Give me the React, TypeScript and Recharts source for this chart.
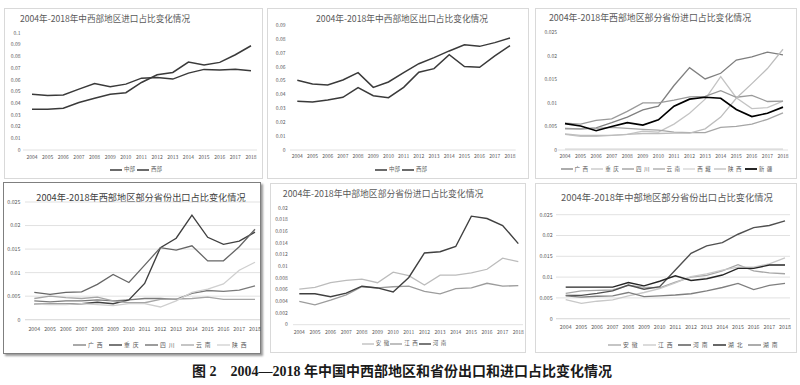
import React from 'react';
import { LineChart, Line, XAxis, YAxis, CartesianGrid } from 'recharts';

// ---------- categories ----------
const years = ['2004', '2005', '2006', '2007', '2008', '2009', '2010', '2011', '2012', '2013', '2014', '2015', '2016', '2017', '2018'];

// ---------- panel 1: 中西部地区进口占比 ----------
const p1Central = [0.0477, 0.0466, 0.0470, 0.0520, 0.0569, 0.0540, 0.0563, 0.0614, 0.0620, 0.0606, 0.0657, 0.0689, 0.0683, 0.0690, 0.0677];
const p1Western = [0.0349, 0.0349, 0.0357, 0.0406, 0.0443, 0.0477, 0.0490, 0.0577, 0.0643, 0.0663, 0.0751, 0.0726, 0.0749, 0.0814, 0.0891];
const p1Ticks = [0, 0.01, 0.02, 0.03, 0.04, 0.05, 0.06, 0.07, 0.08, 0.09, 0.1];

// ---------- panel 2: 中西部地区出口占比 ----------
const p2Central = [0.0503, 0.0476, 0.0469, 0.0505, 0.0558, 0.0452, 0.0491, 0.0558, 0.0623, 0.0667, 0.0715, 0.0760, 0.0748, 0.0775, 0.0808];
const p2Western = [0.0351, 0.0346, 0.0361, 0.0380, 0.0450, 0.0392, 0.0378, 0.0452, 0.0561, 0.0587, 0.0688, 0.0602, 0.0597, 0.0679, 0.0753];
const p2Ticks = [0, 0.01, 0.02, 0.03, 0.04, 0.05, 0.06, 0.07, 0.08, 0.09];

// ---------- panel 3: 西部地区部分省份进口占比 ----------
const p3Guangxi = [0.0046, 0.0045, 0.0047, 0.0058, 0.0070, 0.0085, 0.0093, 0.0137, 0.0175, 0.0151, 0.0163, 0.0191, 0.0198, 0.0208, 0.0202];
const p3Chongqing = [0.0033, 0.0029, 0.0029, 0.0031, 0.0033, 0.0040, 0.0038, 0.0055, 0.0078, 0.0108, 0.0156, 0.0111, 0.0088, 0.0090, 0.0104];
const p3Sichuan = [0.0057, 0.0055, 0.0063, 0.0066, 0.0082, 0.0100, 0.0100, 0.0106, 0.0113, 0.0114, 0.0126, 0.0112, 0.0116, 0.0103, 0.0104];
const p3Yunnan = [0.0045, 0.0045, 0.0046, 0.0048, 0.0046, 0.0044, 0.0042, 0.0038, 0.0037, 0.0037, 0.0048, 0.0050, 0.0055, 0.0065, 0.0079];
const p3Tibet = [0.0002, 0.0002, 0.0002, 0.0002, 0.0002, 0.0002, 0.0002, 0.0002, 0.0002, 0.0002, 0.0002, 0.0002, 0.0002, 0.0002, 0.0002];
const p3Shaanxi = [0.0034, 0.0031, 0.0031, 0.0031, 0.0033, 0.0035, 0.0035, 0.0036, 0.0036, 0.0045, 0.0070, 0.0110, 0.0141, 0.0173, 0.0214];
const p3Xinjiang = [0.0056, 0.0051, 0.0041, 0.0050, 0.0058, 0.0053, 0.0064, 0.0093, 0.0108, 0.0112, 0.0110, 0.0086, 0.0071, 0.0078, 0.0091];
const ticks025 = [0, 0.005, 0.01, 0.015, 0.02, 0.025];

// ---------- panel 4: 西部地区部分省份出口占比 ----------
const p4Guangxi = [0.0040, 0.0038, 0.0040, 0.0040, 0.0042, 0.0040, 0.0042, 0.0045, 0.0045, 0.0043, 0.0056, 0.0062, 0.0060, 0.0063, 0.0072];
const p4Chongqing = [0.0033, 0.0033, 0.0033, 0.0034, 0.0037, 0.0034, 0.0042, 0.0077, 0.0153, 0.0173, 0.0222, 0.0175, 0.0160, 0.0167, 0.0186];
const p4Sichuan = [0.0058, 0.0054, 0.0058, 0.0059, 0.0075, 0.0096, 0.0079, 0.0116, 0.0153, 0.0148, 0.0157, 0.0125, 0.0125, 0.0155, 0.0192];
const p4Yunnan = [0.0045, 0.0050, 0.0047, 0.0045, 0.0048, 0.0040, 0.0036, 0.0036, 0.0043, 0.0044, 0.0045, 0.0048, 0.0043, 0.0043, 0.0043];
const p4Shaanxi = [0.0033, 0.0032, 0.0032, 0.0034, 0.0032, 0.0030, 0.0034, 0.0034, 0.0027, 0.0040, 0.0058, 0.0065, 0.0076, 0.0105, 0.0122];

// ---------- panel 5: 中部地区部分省份进口占比 ----------
const p5Anhui = [0.0061, 0.0064, 0.0072, 0.0076, 0.0078, 0.0072, 0.0090, 0.0084, 0.0068, 0.0085, 0.0085, 0.0089, 0.0095, 0.0114, 0.0108];
const p5Jiangxi = [0.0040, 0.0034, 0.0042, 0.0051, 0.0065, 0.0063, 0.0065, 0.0066, 0.0057, 0.0053, 0.0062, 0.0063, 0.0071, 0.0066, 0.0067];
const p5Henan = [0.0053, 0.0053, 0.0048, 0.0054, 0.0066, 0.0063, 0.0056, 0.0081, 0.0123, 0.0125, 0.0134, 0.0186, 0.0182, 0.0170, 0.0139];
const p5Ticks = [0, 0.002, 0.004, 0.006, 0.008, 0.01, 0.012, 0.014, 0.016, 0.018, 0.02];

// ---------- panel 6: 中部地区部分省份出口占比 ----------
const p6Anhui = [0.0061, 0.0067, 0.0068, 0.0069, 0.0080, 0.0076, 0.0074, 0.0088, 0.0100, 0.0104, 0.0115, 0.0130, 0.0115, 0.0110, 0.0108];
const p6Jiangxi = [0.0046, 0.0037, 0.0042, 0.0045, 0.0055, 0.0063, 0.0072, 0.0086, 0.0101, 0.0108, 0.0117, 0.0124, 0.0124, 0.0132, 0.0146];
const p6Henan = [0.0056, 0.0056, 0.0061, 0.0067, 0.0081, 0.0071, 0.0077, 0.0117, 0.0157, 0.0175, 0.0183, 0.0203, 0.0219, 0.0224, 0.0235];
const p6Hubei = [0.0076, 0.0076, 0.0076, 0.0076, 0.0087, 0.0079, 0.0090, 0.0103, 0.0092, 0.0096, 0.0105, 0.0121, 0.0121, 0.0129, 0.0129];
const p6Hunan = [0.0055, 0.0052, 0.0054, 0.0055, 0.0063, 0.0053, 0.0055, 0.0057, 0.0060, 0.0067, 0.0075, 0.0085, 0.0070, 0.0080, 0.0085];

const captionText = '图 2\u30002004—2018 年中国中西部地区和省份出口和进口占比变化情况';

// ---------- layout / styles ----------
type Series = { name: string; values: number[]; color: string; width: number };
type PanelCfg = {
  box: { left: number; top: number; width: number; height: number };
  border: string;
  shadow?: string;
  title: string;
  titleCx: number;
  titleCy: number;
  titleSize: number;
  titleColor: string;
  axisStart: number;
  axisEnd: number;
  firstX: number;
  lastX: number;
  yZero: number;
  yMaxPx: number;
  yMax: number;
  ticks: number[];
  yLabelRight: number;
  xLabelCy: number;
  tickFont: number;
  grid: boolean;
  legendCx: number;
  legendCy: number;
  legendItemW: number;
  legendLineLen: number;
  legendFont: number;
  legendSpacing: number;
  series: Series[];
};

const FONT = '"Noto Sans CJK SC", "Noto Sans", sans-serif';
const TXT = '#595959';
const AXIS = '#d9d9d9';

const fmt = (v: number) => (v === 0 ? '0' : String(Number(v.toFixed(4))));

const panels: PanelCfg[] = [
  {
    box: { left: 4, top: 8, width: 259, height: 171 },
    border: '1px solid #d9d9d9',
    title: '2004年-2018年中西部地区进口占比变化情况',
    titleCx: 105, titleCy: 18, titleSize: 8.6, titleColor: TXT,
    axisStart: 23, axisEnd: 257, firstX: 32, lastX: 251,
    yZero: 150, yMaxPx: 33, yMax: 0.1, ticks: p1Ticks, yLabelRight: 20.5,
    xLabelCy: 157, tickFont: 5, grid: false,
    legendCx: 137, legendCy: 170, legendItemW: 27, legendLineLen: 12, legendFont: 5.5, legendSpacing: 0,
    series: [
      { name: '中部', values: p1Central, color: '#3a3a3a', width: 1.5 },
      { name: '西部', values: p1Western, color: '#3a3a3a', width: 1.5 },
    ],
  },
  {
    box: { left: 267, top: 8, width: 262, height: 171 },
    border: '1px solid #d9d9d9',
    title: '2004年-2018年中西部地区出口占比变化情况',
    titleCx: 402, titleCy: 19, titleSize: 8.7, titleColor: TXT,
    axisStart: 290, axisEnd: 515.7, firstX: 297.3, lastX: 510,
    yZero: 150, yMaxPx: 25.3, yMax: 0.09, ticks: p2Ticks, yLabelRight: 285.5,
    xLabelCy: 156.7, tickFont: 5, grid: false,
    legendCx: 402, legendCy: 169.5, legendItemW: 27, legendLineLen: 12, legendFont: 5.5, legendSpacing: 0,
    series: [
      { name: '中部', values: p2Central, color: '#3a3a3a', width: 1.5 },
      { name: '西部', values: p2Western, color: '#3a3a3a', width: 1.5 },
    ],
  },
  {
    box: { left: 535, top: 8, width: 262, height: 171 },
    border: '1px solid #d9d9d9',
    title: '2004年-2018年西部地区部分省份进口占比变化情况',
    titleCx: 650, titleCy: 18.3, titleSize: 8.9, titleColor: TXT,
    axisStart: 558, axisEnd: 788, firstX: 565, lastX: 783,
    yZero: 150, yMaxPx: 32.3, yMax: 0.025, ticks: ticks025, yLabelRight: 557,
    xLabelCy: 156.5, tickFont: 5, grid: false,
    legendCx: 668, legendCy: 169.3, legendItemW: 30.7, legendLineLen: 12, legendFont: 5.5, legendSpacing: 2.5,
    series: [
      { name: '广西', values: p3Guangxi, color: '#7f7f7f', width: 1.3 },
      { name: '重庆', values: p3Chongqing, color: '#c4c4c4', width: 1.3 },
      { name: '四川', values: p3Sichuan, color: '#9a9a9a', width: 1.3 },
      { name: '云南', values: p3Yunnan, color: '#a6a6a6', width: 1.3 },
      { name: '西藏', values: p3Tibet, color: '#d4d4d4', width: 1.3 },
      { name: '陕西', values: p3Shaanxi, color: '#bdbdbd', width: 1.3 },
      { name: '新疆', values: p3Xinjiang, color: '#000000', width: 1.7 },
    ],
  },
  {
    box: { left: 3, top: 182, width: 258, height: 172 },
    border: '1.5px solid #7f7f7f',
    shadow: '2px 2px 2px #9a9a9a',
    title: '2004年-2018年西部地区部分省份出口占比变化情况',
    titleCx: 141, titleCy: 197.3, titleSize: 9.2, titleColor: '#404040',
    axisStart: 25, axisEnd: 260, firstX: 34.3, lastX: 255,
    yZero: 319.7, yMaxPx: 202, yMax: 0.025, ticks: ticks025, yLabelRight: 20.5,
    xLabelCy: 329, tickFont: 5.3, grid: true,
    legendCx: 163, legendCy: 344.7, legendItemW: 36, legendLineLen: 13, legendFont: 5.8, legendSpacing: 3,
    series: [
      { name: '广西', values: p4Guangxi, color: '#7a7a7a', width: 1.3 },
      { name: '重庆', values: p4Chongqing, color: '#404040', width: 1.4 },
      { name: '四川', values: p4Sichuan, color: '#666666', width: 1.3 },
      { name: '云南', values: p4Yunnan, color: '#a6a6a6', width: 1.3 },
      { name: '陕西', values: p4Shaanxi, color: '#cfcfcf', width: 1.3 },
    ],
  },
  {
    box: { left: 270, top: 183, width: 256, height: 170 },
    border: '1px solid #d9d9d9',
    title: '2004年-2018年中部地区部分省份进口占比变化情况',
    titleCx: 383, titleCy: 194, titleSize: 8.8, titleColor: TXT,
    axisStart: 293, axisEnd: 523, firstX: 299.3, lastX: 518.3,
    yZero: 324.7, yMaxPx: 208, yMax: 0.02, ticks: p5Ticks, yLabelRight: 287.7,
    xLabelCy: 332.3, tickFont: 5, grid: false,
    legendCx: 404.5, legendCy: 343.7, legendItemW: 28.5, legendLineLen: 12, legendFont: 5.5, legendSpacing: 2.5,
    series: [
      { name: '安徽', values: p5Anhui, color: '#bcbcbc', width: 1.3 },
      { name: '江西', values: p5Jiangxi, color: '#9c9c9c', width: 1.3 },
      { name: '河南', values: p5Henan, color: '#404040', width: 1.4 },
    ],
  },
  {
    box: { left: 535, top: 183, width: 262, height: 170 },
    border: '1px solid #d9d9d9',
    title: '2004年-2018年中部地区部分省份出口占比变化情况',
    titleCx: 667, titleCy: 198, titleSize: 9.3, titleColor: TXT,
    axisStart: 556, axisEnd: 790, firstX: 565.7, lastX: 785,
    yZero: 318.7, yMaxPx: 214.7, yMax: 0.025, ticks: ticks025, yLabelRight: 552.7,
    xLabelCy: 327, tickFont: 5.3, grid: true,
    legendCx: 695.5, legendCy: 344.7, legendItemW: 35, legendLineLen: 13, legendFont: 5.8, legendSpacing: 3,
    series: [
      { name: '安徽', values: p6Anhui, color: '#a6a6a6', width: 1.3 },
      { name: '江西', values: p6Jiangxi, color: '#c8c8c8', width: 1.3 },
      { name: '河南', values: p6Henan, color: '#505050', width: 1.4 },
      { name: '湖北', values: p6Hubei, color: '#262626', width: 1.4 },
      { name: '湖南', values: p6Hunan, color: '#7f7f7f', width: 1.3 },
    ],
  },
];

function Legend({ cfg }: { cfg: PanelCfg }) {
  const total = cfg.series.length * cfg.legendItemW;
  return (
    <div
      style={{
        position: 'absolute',
        left: cfg.legendCx - total / 2,
        top: cfg.legendCy - 6,
        height: 12,
        display: 'flex',
        alignItems: 'center',
        fontFamily: FONT,
      }}
    >
      {cfg.series.map((s) => (
        <div key={s.name} style={{ width: cfg.legendItemW, display: 'flex', alignItems: 'center', flex: 'none' }}>
          <svg width={cfg.legendLineLen} height={4} style={{ display: 'block', flex: 'none' }}>
            <line x1={0} y1={2} x2={cfg.legendLineLen} y2={2} stroke={s.color} strokeWidth={s.width} />
          </svg>
          <span
            style={{
              marginLeft: 2,
              fontSize: cfg.legendFont,
              letterSpacing: cfg.legendSpacing,
              color: TXT,
              lineHeight: 1,
              whiteSpace: 'nowrap',
            }}
          >
            {s.name}
          </span>
        </div>
      ))}
    </div>
  );
}

function Panel({ cfg }: { cfg: PanelCfg }) {
  const { box } = cfg;
  const W = box.width;
  const H = box.height;
  const plotLeft = cfg.axisStart - box.left;
  const plotRight = cfg.axisEnd - box.left;
  const plotTop = cfg.yMaxPx - box.top;
  const plotBottom = cfg.yZero - box.top;
  const data = years.map((y, i) => {
    const row: Record<string, number | string> = { year: y };
    cfg.series.forEach((s, k) => {
      row['s' + k] = s.values[i];
    });
    return row;
  });
  const tickStyle = { fontSize: cfg.tickFont, fill: TXT, fontFamily: FONT };
  return (
    <>
      <div
        style={{
          position: 'absolute',
          left: box.left,
          top: box.top,
          width: W,
          height: H,
          border: cfg.border,
          boxSizing: 'border-box',
          boxShadow: cfg.shadow,
          background: '#fff',
        }}
      />
      <div
        style={{
          position: 'absolute',
          left: cfg.titleCx,
          top: cfg.titleCy - cfg.titleSize * 0.6,
          transform: 'translateX(-50%)',
          fontFamily: FONT,
          fontSize: cfg.titleSize,
          color: cfg.titleColor,
          whiteSpace: 'nowrap',
          lineHeight: 1.2,
        }}
      >
        {cfg.title}
      </div>
      <div style={{ position: 'absolute', left: box.left, top: box.top, width: W, height: H }}>
        <LineChart
          width={W}
          height={H}
          data={data}
          margin={{ top: plotTop, right: W - plotRight, bottom: 0, left: 0 }}
        >
          {cfg.grid && <CartesianGrid vertical={false} stroke={AXIS} strokeWidth={0.8} />}
          <XAxis
            dataKey="year"
            height={H - plotBottom}
            padding={{ left: cfg.firstX - cfg.axisStart, right: cfg.axisEnd - cfg.lastX }}
            tickLine={false}
            tickSize={0}
            tickMargin={cfg.xLabelCy - cfg.yZero - cfg.tickFont * 0.36}
            axisLine={{ stroke: AXIS, strokeWidth: 0.8 }}
            interval={0}
            tick={tickStyle}
          />
          <YAxis
            width={plotLeft}
            domain={[0, cfg.yMax]}
            ticks={cfg.ticks}
            interval={0}
            tickFormatter={fmt}
            tickLine={false}
            axisLine={false}
            tickSize={0}
            tickMargin={cfg.axisStart - cfg.yLabelRight}
            tick={tickStyle}
          />
          {cfg.series.map((s, k) => (
            <Line
              key={s.name}
              type="linear"
              dataKey={'s' + k}
              name={s.name}
              stroke={s.color}
              strokeWidth={s.width}
              dot={false}
              activeDot={false}
              isAnimationActive={false}
            />
          ))}
        </LineChart>
      </div>
      <Legend cfg={cfg} />
    </>
  );
}

export default function App() {
  return (
    <div
      style={{
        position: 'absolute',
        left: 0,
        top: 0,
        width: 800,
        height: 385,
        background: '#fff',
        overflow: 'hidden',
      }}
    >
      {panels.map((p, i) => (
        <Panel key={i} cfg={p} />
      ))}
      <div
        style={{
          position: 'absolute',
          left: 402,
          top: 363.5,
          transform: 'translateX(-50%)',
          fontFamily: '"Liberation Serif", "Noto Sans CJK SC", serif',
          fontWeight: 'bold',
          fontSize: 14,
          color: '#1a1a1a',
          whiteSpace: 'nowrap',
          lineHeight: 1.2,
        }}
      >
        {captionText}
      </div>
    </div>
  );
}
